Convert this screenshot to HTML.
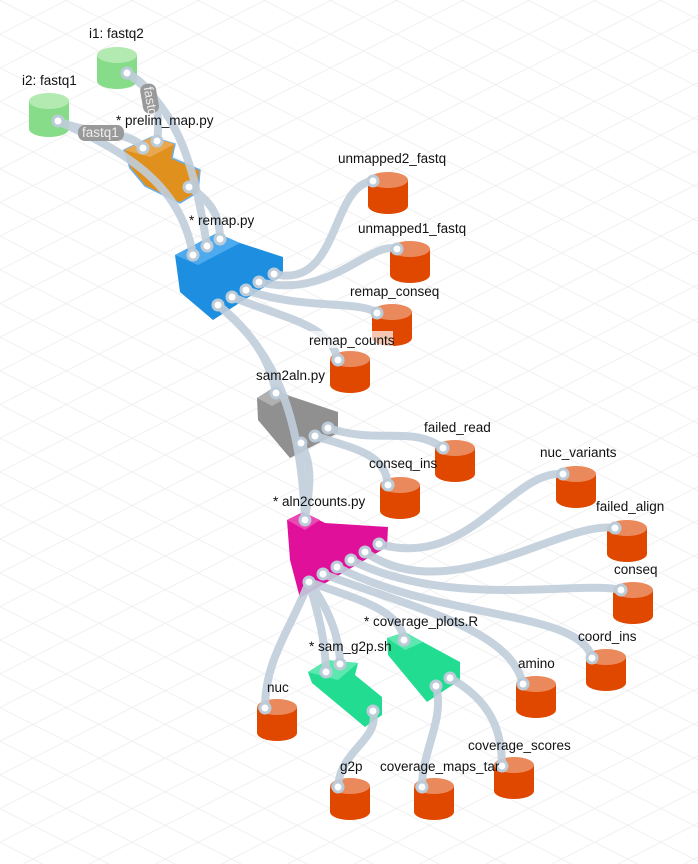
<!DOCTYPE html>
<html><head><meta charset="utf-8"><style>
html,body{margin:0;padding:0;background:#fff}
svg{display:block}
text{font-family:"Liberation Sans",sans-serif;font-size:13.5px;fill:#111}
</style></head><body>
<svg width="698" height="864" viewBox="0 0 698 864" xmlns="http://www.w3.org/2000/svg">
<defs>
<pattern id="g1" width="30" height="30" patternUnits="userSpaceOnUse" patternTransform="rotate(27)"><line x1="0" y1="0" x2="30" y2="0" stroke="#ececec" stroke-width="1.5"/></pattern>
<pattern id="g2" width="30" height="30" patternUnits="userSpaceOnUse" patternTransform="rotate(-27)"><line x1="0" y1="0" x2="30" y2="0" stroke="#ececec" stroke-width="1.5"/></pattern>
</defs>
<rect width="698" height="864" fill="url(#g1)"/>
<rect width="698" height="864" fill="url(#g2)"/>

<g>
<g><rect x="97" y="55" width="40" height="26" fill="#86dc88"/><ellipse cx="117" cy="81" rx="20" ry="8" fill="#86dc88"/><ellipse cx="117" cy="55" rx="20" ry="8" fill="#b2eab2"/></g>
<g><rect x="29" y="101" width="40" height="28" fill="#86dc88"/><ellipse cx="49" cy="129" rx="20" ry="8" fill="#86dc88"/><ellipse cx="49" cy="101" rx="20" ry="8" fill="#b2eab2"/></g>
</g>
<g fill="#e04800">
<g transform="translate(388,180)"><rect x="-20" y="0" width="40" height="26"/><ellipse cx="0" cy="26" rx="20" ry="8"/><ellipse cx="0" cy="0" rx="20" ry="8" fill="#ea8a5c"/></g>
<g transform="translate(410,249)"><rect x="-20" y="0" width="40" height="26"/><ellipse cx="0" cy="26" rx="20" ry="8"/><ellipse cx="0" cy="0" rx="20" ry="8" fill="#ea8a5c"/></g>
<g transform="translate(392,312)"><rect x="-20" y="0" width="40" height="26"/><ellipse cx="0" cy="26" rx="20" ry="8"/><ellipse cx="0" cy="0" rx="20" ry="8" fill="#ea8a5c"/></g>
<g transform="translate(350,359)"><rect x="-20" y="0" width="40" height="26"/><ellipse cx="0" cy="26" rx="20" ry="8"/><ellipse cx="0" cy="0" rx="20" ry="8" fill="#ea8a5c"/></g>
<g transform="translate(455,448)"><rect x="-20" y="0" width="40" height="26"/><ellipse cx="0" cy="26" rx="20" ry="8"/><ellipse cx="0" cy="0" rx="20" ry="8" fill="#ea8a5c"/></g>
<g transform="translate(400,485)"><rect x="-20" y="0" width="40" height="26"/><ellipse cx="0" cy="26" rx="20" ry="8"/><ellipse cx="0" cy="0" rx="20" ry="8" fill="#ea8a5c"/></g>
<g transform="translate(576,474)"><rect x="-20" y="0" width="40" height="26"/><ellipse cx="0" cy="26" rx="20" ry="8"/><ellipse cx="0" cy="0" rx="20" ry="8" fill="#ea8a5c"/></g>
<g transform="translate(627,528)"><rect x="-20" y="0" width="40" height="26"/><ellipse cx="0" cy="26" rx="20" ry="8"/><ellipse cx="0" cy="0" rx="20" ry="8" fill="#ea8a5c"/></g>
<g transform="translate(633,590)"><rect x="-20" y="0" width="40" height="26"/><ellipse cx="0" cy="26" rx="20" ry="8"/><ellipse cx="0" cy="0" rx="20" ry="8" fill="#ea8a5c"/></g>
<g transform="translate(606,657)"><rect x="-20" y="0" width="40" height="26"/><ellipse cx="0" cy="26" rx="20" ry="8"/><ellipse cx="0" cy="0" rx="20" ry="8" fill="#ea8a5c"/></g>
<g transform="translate(536,684)"><rect x="-20" y="0" width="40" height="26"/><ellipse cx="0" cy="26" rx="20" ry="8"/><ellipse cx="0" cy="0" rx="20" ry="8" fill="#ea8a5c"/></g>
<g transform="translate(277,707)"><rect x="-20" y="0" width="40" height="26"/><ellipse cx="0" cy="26" rx="20" ry="8"/><ellipse cx="0" cy="0" rx="20" ry="8" fill="#ea8a5c"/></g>
<g transform="translate(350,786)"><rect x="-20" y="0" width="40" height="26"/><ellipse cx="0" cy="26" rx="20" ry="8"/><ellipse cx="0" cy="0" rx="20" ry="8" fill="#ea8a5c"/></g>
<g transform="translate(434,786)"><rect x="-20" y="0" width="40" height="26"/><ellipse cx="0" cy="26" rx="20" ry="8"/><ellipse cx="0" cy="0" rx="20" ry="8" fill="#ea8a5c"/></g>
<g transform="translate(514,765)"><rect x="-20" y="0" width="40" height="26"/><ellipse cx="0" cy="26" rx="20" ry="8"/><ellipse cx="0" cy="0" rx="20" ry="8" fill="#ea8a5c"/></g>
</g>

<polygon points="124,150 152,137 175,144 172,158 200,170 198,192 180,203 145,186 130,168" fill="#e0901c" stroke="#6ab0f0" stroke-width="1.5"/>
<polygon points="124,150 152,137 175,144 150,157" fill="#e8a850"/>
<polygon points="175,255 217,233 240,243 283,257 283,275 213,320 180,292" fill="#1e8fe0"/>
<polygon points="175,255 217,233 240,243 198,265" fill="#4eaaee"/>
<polygon points="257,398 273,388 290,396 338,412 338,433 290,458 258,420" fill="#909090"/>
<polygon points="257,398 273,388 290,396 272,406" fill="#b0b0b0"/>
<polygon points="287,520 303,512 325,523 388,527 387,547 300,598 290,560" fill="#e0109a"/>
<polygon points="287,520 303,512 320,520 305,530" fill="#ea48b2"/>
<polygon points="308,672 327,660 358,663 355,675 382,697 382,715 365,727 312,683" fill="#22dc92"/>
<polygon points="308,672 327,660 358,663 338,680" fill="#5ee8b0"/>
<polygon points="387,638 405,632 423,642 460,662 460,680 427,702 388,655" fill="#22dc92"/>
<polygon points="387,638 405,632 423,642 405,650" fill="#5ee8b0"/>

<g fill="none" stroke="#c0cedb" stroke-width="8" stroke-linecap="round" opacity="0.9">
<path d="M127,73 C160,90 160,120 157,141"/>
<path d="M127,73 C180,110 195,170 207,246"/>
<path d="M58,121 C90,135 130,130 143,148"/>
<path d="M58,121 C120,150 180,180 193,255"/>
<path d="M189,187 C210,200 220,215 220,239"/>
<path d="M274,274 C340,290 330,185 373,181"/>
<path d="M259,282 C330,300 370,240 397,249"/>
<path d="M246,290 C300,310 360,300 377,313"/>
<path d="M232,297 C290,320 330,325 338,360"/>
<path d="M218,305 C250,330 270,360 276,393"/>
<path d="M218,305 C260,340 300,390 305,520"/>
<path d="M328,428 C380,445 410,425 443,448"/>
<path d="M315,436 C360,450 385,455 388,485"/>
<path d="M301,443 C315,470 308,495 305,520"/>
<path d="M379,544 C470,570 510,470 563,474"/>
<path d="M365,552 C450,610 560,520 615,528"/>
<path d="M351,560 C450,610 580,580 621,590"/>
<path d="M337,567 C440,620 580,610 592,658"/>
<path d="M323,574 C420,610 510,630 523,684"/>
<path d="M309,582 C290,630 265,660 265,708"/>
<path d="M309,582 C320,620 325,640 326,672"/>
<path d="M309,582 C330,610 340,640 340,664"/>
<path d="M309,582 C360,600 400,610 404,640"/>
<path d="M373,711 C380,740 340,750 338,787"/>
<path d="M436,686 C445,720 422,750 422,787"/>
<path d="M450,678 C490,700 502,730 502,766"/>
</g>

<g fill="#fff" stroke="#bccbd8" stroke-width="3">
<circle cx="127" cy="73" r="5"/><circle cx="58" cy="121" r="5"/>
<circle cx="143" cy="148" r="5"/><circle cx="157" cy="141" r="5"/><circle cx="189" cy="187" r="5"/>
<circle cx="193" cy="255" r="5"/><circle cx="207" cy="246" r="5"/><circle cx="220" cy="239" r="5"/>
<circle cx="218" cy="305" r="5"/><circle cx="232" cy="297" r="5"/><circle cx="246" cy="290" r="5"/><circle cx="259" cy="282" r="5"/><circle cx="274" cy="274" r="5"/>
<circle cx="276" cy="393" r="5"/><circle cx="301" cy="443" r="5"/><circle cx="315" cy="436" r="5"/><circle cx="328" cy="428" r="5"/>
<circle cx="305" cy="520" r="5"/>
<circle cx="309" cy="582" r="5"/><circle cx="323" cy="574" r="5"/><circle cx="337" cy="567" r="5"/><circle cx="351" cy="560" r="5"/><circle cx="365" cy="552" r="5"/><circle cx="379" cy="544" r="5"/>
<circle cx="326" cy="672" r="5"/><circle cx="340" cy="664" r="5"/><circle cx="373" cy="711" r="5"/>
<circle cx="404" cy="640" r="5"/><circle cx="436" cy="686" r="5"/><circle cx="450" cy="678" r="5"/>
<circle cx="373" cy="181" r="5"/><circle cx="397" cy="249" r="5"/><circle cx="377" cy="313" r="5"/><circle cx="338" cy="360" r="5"/>
<circle cx="443" cy="448" r="5"/><circle cx="388" cy="485" r="5"/><circle cx="563" cy="474" r="5"/><circle cx="615" cy="528" r="5"/>
<circle cx="621" cy="590" r="5"/><circle cx="592" cy="658" r="5"/><circle cx="523" cy="684" r="5"/><circle cx="265" cy="708" r="5"/>
<circle cx="338" cy="787" r="5"/><circle cx="422" cy="787" r="5"/><circle cx="502" cy="766" r="5"/>
</g>

<rect x="78" y="125" width="46" height="16" rx="7" fill="#999"/>
<text x="82" y="137" style="fill:#eee">fastq1</text>
<g transform="translate(146,84) rotate(80)"><rect x="0" y="-9" width="30" height="16" rx="7" fill="#999"/><text x="3" y="3" style="fill:#eee">fastq</text></g>

<text x="89" y="38">i1: fastq2</text>
<text x="22" y="85">i2: fastq1</text>
<text x="116" y="125">* prelim_map.py</text>
<text x="189" y="225">* remap.py</text>
<text x="338" y="163">unmapped2_fastq</text>
<text x="358" y="233">unmapped1_fastq</text>
<text x="350" y="296">remap_conseq</text>
<rect x="308" y="331" width="85" height="17" fill="#fff" opacity="0.7"/>
<text x="309" y="345">remap_counts</text>
<text x="256" y="380">sam2aln.py</text>
<text x="424" y="432">failed_read</text>
<text x="369" y="468">conseq_ins</text>
<text x="540" y="457">nuc_variants</text>
<text x="596" y="511">failed_align</text>
<text x="614" y="574">conseq</text>
<text x="578" y="641">coord_ins</text>
<text x="273" y="506">* aln2counts.py</text>
<text x="364" y="626">* coverage_plots.R</text>
<text x="309" y="651">* sam_g2p.sh</text>
<text x="518" y="668">amino</text>
<text x="267" y="692">nuc</text>
<text x="468" y="750">coverage_scores</text>
<text x="340" y="771">g2p</text>
<text x="380" y="771">coverage_maps_tar</text>
</svg>
</body></html>
